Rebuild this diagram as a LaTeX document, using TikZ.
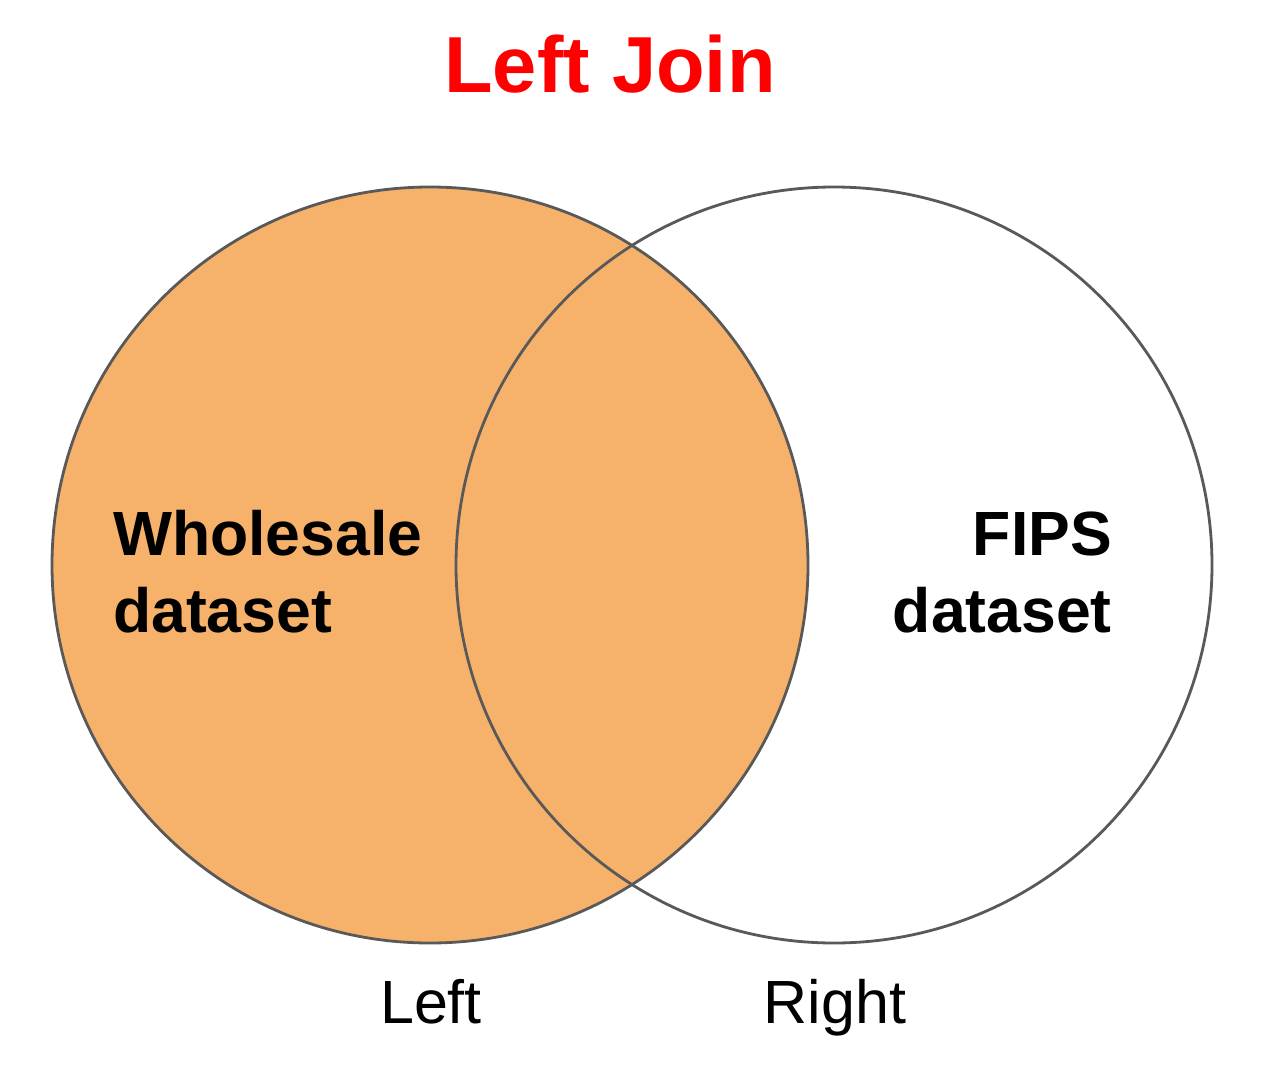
\documentclass[tikz,border=0pt]{standalone}
\usepackage{fontspec}
\setmainfont{Liberation Sans}
\definecolor{lorange}{HTML}{F6B26B}
\definecolor{ring}{HTML}{595959}
\definecolor{titlered}{HTML}{FF0000}
\begin{document}
\begin{tikzpicture}[x=1pt,y=-1pt,
  setring/.style={draw=ring,line width=2.8pt},
  biglabel/.style={font=\bfseries\fontsize{62.5}{75}\selectfont,inner sep=0pt},
  sidelabel/.style={font=\fontsize{61}{73}\selectfont,inner sep=0pt,anchor=base}]
\useasboundingbox (0,0) rectangle (1288,1076);
\fill[white] (0,0) rectangle (1288,1076);
\node[inner sep=0pt,anchor=base,text=titlered,font=\bfseries\fontsize{79.5}{95}\selectfont] (title) at (610,92) {Left Join};
\fill[lorange] (430,565) circle (378);
\node[setring,circle,minimum size=756pt,inner sep=0pt] (leftset) at (430,565) {};
\node[setring,circle,minimum size=756pt,inner sep=0pt] (rightset) at (834,565) {};
\node[biglabel,anchor=base west] (wh1) at (113,555) {Wholesale};
\node[biglabel,anchor=base west] (wh2) at (113,632) {dataset};
\node[biglabel,anchor=base east] (fi1) at (1112,555) {FIPS};
\node[biglabel,anchor=base east] (fi2) at (1112,632) {dataset};
\node[sidelabel] (lefttxt) at (431,1023) {Left};
\node[sidelabel] (righttxt) at (835,1023) {Right};
\end{tikzpicture}
\end{document}
